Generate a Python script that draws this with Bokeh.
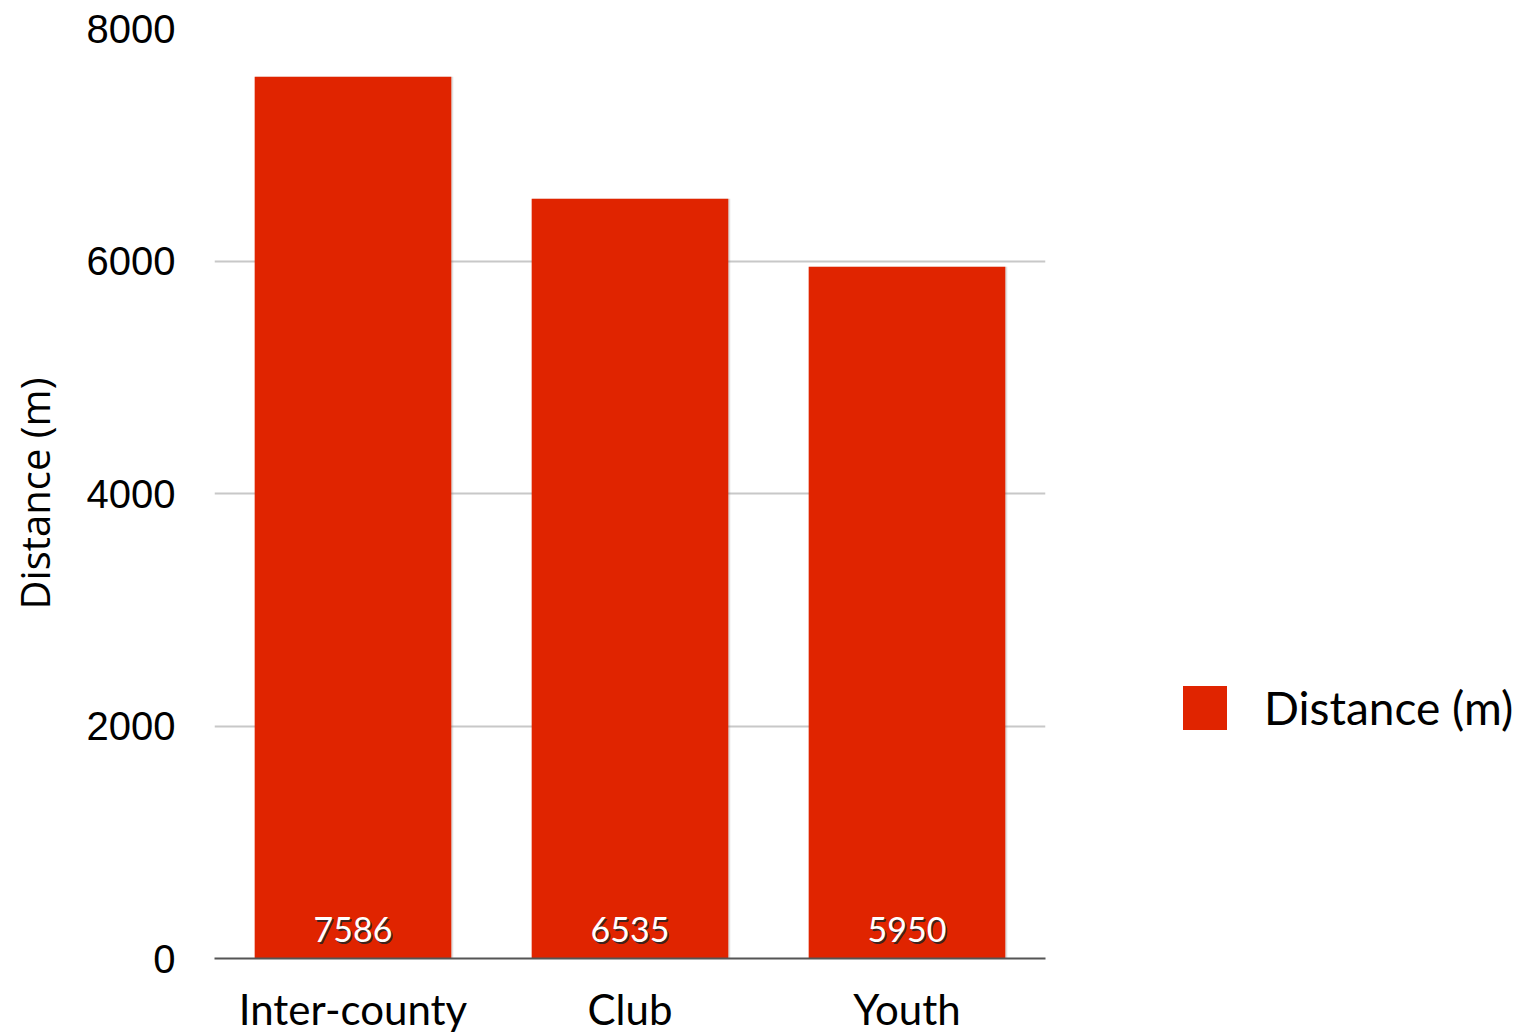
from bokeh.plotting import figure
from bokeh.models import ColumnDataSource, FixedTicker, Range1d, Legend, LegendItem
from bokeh.transform import dodge
from bokeh.core.properties import value
from bokeh.embed import file_html
from bokeh.resources import INLINE

categories = ["Inter-county", "Club", "Youth"]
distance = [7586, 6535, 5950]
bar_labels = [str(v) for v in distance]
label_base = [0, 0, 0]
y_ticks = [0, 2000, 4000, 6000, 8000]
series_name = "Distance (m)"

BAR = "#E02400"

source = ColumnDataSource(dict(cat=categories, dist=distance, lab=bar_labels, base=label_base))

p = figure(x_range=categories, y_range=Range1d(0, 8000),
           frame_width=831, frame_height=930, width=1527, height=1034,
           min_border_left=214, min_border_top=28, min_border_bottom=76, min_border_right=482,
           output_backend="svg", toolbar_location=None, tools="")
p.outline_line_color = None
p.background_fill_color = "white"
p.border_fill_color = "white"

# soft shadow
p.vbar(x=dodge("cat", 0.005, range=p.x_range), top="dist", width=0.714, source=source,
       fill_color="#888888", fill_alpha=0.25, line_color=None)
bars = p.vbar(x="cat", top="dist", width=0.71, source=source, fill_color=BAR, line_color=None)

# shadowed value labels
p.text(x="cat", y="base", text="lab", source=source, text_color="#222222", text_alpha=0.85,
       text_font=value("Lato"), text_font_size="34px", text_align="center",
       text_baseline="alphabetic", x_offset=1.5, y_offset=-27)
p.text(x="cat", y="base", text="lab", source=source, text_color="white",
       text_font=value("Lato"), text_font_size="34px", text_align="center",
       text_baseline="alphabetic", x_offset=0, y_offset=-29)

p.yaxis.ticker = FixedTicker(ticks=y_ticks)
p.yaxis.axis_line_color = None
p.yaxis.major_tick_line_color = None
p.yaxis.minor_tick_line_color = None
p.yaxis.major_label_text_font = "Liberation Sans"
p.yaxis.major_label_text_font_size = "40px"
p.yaxis.major_label_text_color = "black"
p.yaxis.major_label_standoff = 33
p.yaxis.axis_label = series_name
p.yaxis.axis_label_text_font = "Open Sans"
p.yaxis.axis_label_text_font_size = "40px"
p.yaxis.axis_label_text_font_style = "normal"
p.yaxis.axis_label_text_color = "black"
p.yaxis.axis_label_standoff = 22

p.xaxis.axis_line_color = "#555555"
p.xaxis.axis_line_width = 2
p.xaxis.major_tick_line_color = None
p.xaxis.minor_tick_line_color = None
p.xaxis.major_label_text_font = "Lato"
p.xaxis.major_label_text_font_size = "42px"
p.xaxis.major_label_text_color = "black"
p.xaxis.major_label_standoff = 19

p.xgrid.grid_line_color = None
p.ygrid.grid_line_color = "#c8c8c8"
p.ygrid.grid_line_width = 2

legend = Legend(items=[LegendItem(label=series_name, renderers=[bars])],
                location=(132, 223), orientation="vertical",
                glyph_width=55, glyph_height=55, label_standoff=32,
                label_text_font="Lato", label_text_font_size="46px",
                label_text_color="black",
                label_height=55, padding=0, margin=0, spacing=0,
                border_line_color=None, background_fill_alpha=0)
p.add_layout(legend, "right")

open("out.html", "w").write(file_html(p, INLINE))
